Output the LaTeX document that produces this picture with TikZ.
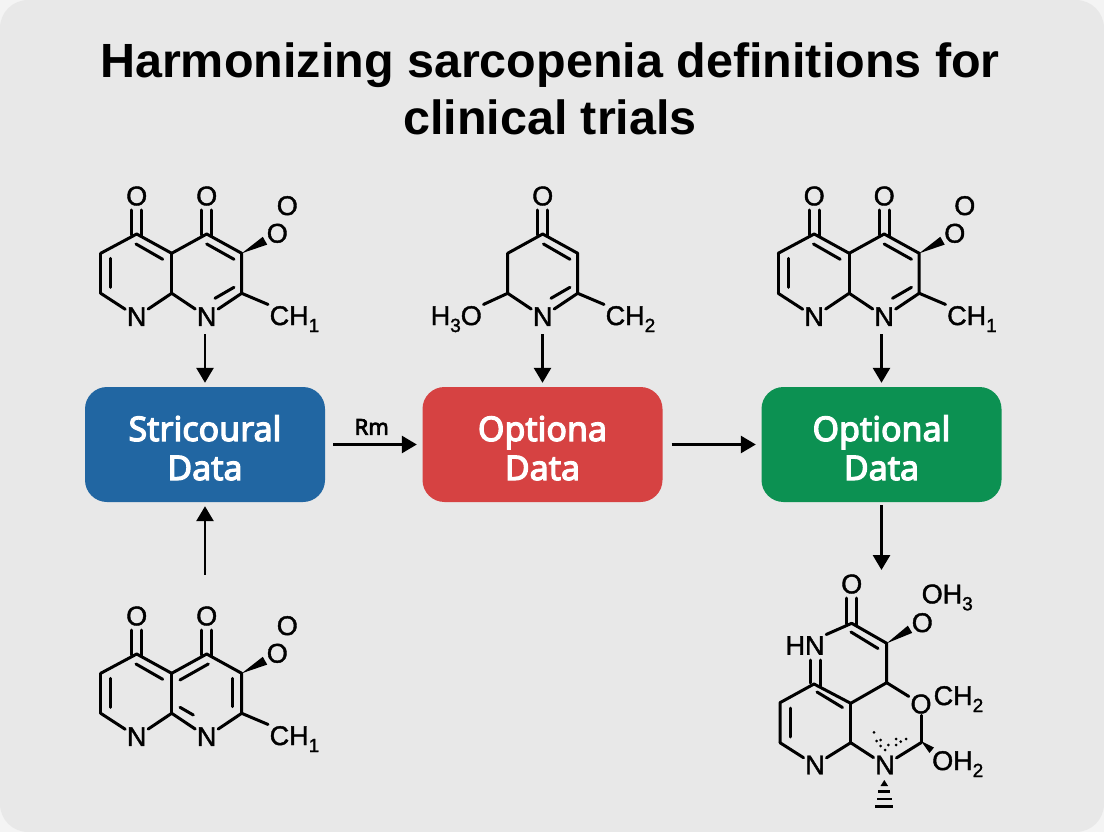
\documentclass[tikz,border=0pt]{standalone}
\usepackage{fontspec}
\setmainfont{Liberation Sans}
\newfontfamily\atomfont[FakeBold=1.5]{Liberation Sans}
\newfontfamily\boxfont[FakeBold=3.5]{Noto Sans}
\usepackage{xcolor}
\usetikzlibrary{arrows.meta, positioning, calc}
\definecolor{panelcolor}{HTML}{E8E8E8}
\definecolor{cornercolor}{HTML}{F4F4F4}
\definecolor{bluecolor}{HTML}{2166A2}
\definecolor{redcolor}{HTML}{D64242}
\definecolor{greencolor}{HTML}{0C9152}
\newcommand{\subidx}[1]{\raisebox{-7pt}{\fontsize{19}{19}\selectfont #1}}
% atoms and bonds shared by the two ketone rings
\newcommand{\ringbase}{
    \coordinate (-a) at (136.7,234);
    \coordinate (-b) at (171.7,253.3);
    \coordinate (-c) at (206.7,234);
    \coordinate (-d) at (241.7,253.3);
    \coordinate (-e) at (241.7,293.3);
    \coordinate (-f) at (171.7,293.3);
    \coordinate (-g) at (100.7,253.3);
    \coordinate (-h) at (100.7,293.3);
    \node[atom] (-o1) at (136.7,196) {O};
    \node[atom] (-o2) at (206.7,196) {O};
    \node[atom] (-o3) at (287.3,205.7) {O};
    \node[atom] (-o4) at (277.3,233.3) {O};
    \node[atom] (-n1) at (136.7,316.7) {N};
    \node[atom] (-n2) at (206.7,316.7) {N};
    \node[atom, anchor=base west] (-ch) at (268,325) {CH\subidx{1}};
    \draw[bond] (131.7,235) -- (131.7,210);
    \draw[bond] (141.7,236) -- (141.7,210);
    \draw[bond] (201.7,235) -- (201.7,210);
    \draw[bond] (211.7,236) -- (211.7,210);
    \draw[bond] (-g) -- (-a) -- (-b) -- (-c) -- (-d) -- (-e);
    \draw[bond] (-g) -- (-h);
    \draw[bond] (-h) -- (-n1);
    \draw[bond] (-n1) -- (-f);
    \draw[bond] (-f) -- (-b);
    \draw[bond] (-f) -- (-n2);
    \draw[bond] (-e) -- (-n2);
    \draw[bond] (-e) -- (-ch.north west);
    \draw[bond] (136,244) -- (162.7,259.3);
    \draw[bond] (110.7,258.3) -- (110.7,287.3);
    \fill (-d) -- (267.2,244.6) -- (262.8,236.8) -- cycle;
}
\tikzset{
    ringtop/.pic={
        \ringbase
        \draw[bond] (206.7,244) -- (234,259.3);
        \draw[bond] (215,298.3) -- (234,287.3);
    },
    ringlow/.pic={
        \ringbase
        \draw[bond] (180,260) -- (208.3,244);
        \draw[bond] (180,287.3) -- (193.3,295);
        \draw[bond] (232.7,258.3) -- (232.7,286.7);
    }
}

\begin{document}
\begin{tikzpicture}[x=1pt, y=-1pt,
    databox/.style={rectangle, rounded corners=22pt, fill=#1, text=white, minimum width=240pt, minimum height=115pt, align=center, text height=71pt, text depth=0pt, font=\boxfont\fontsize{34}{39}\selectfont},
    atom/.style={inner sep=1.5pt, font=\atomfont\fontsize{27}{27}\selectfont},
    bond/.style={line width=3pt, line cap=round, line join=round},
    arrow/.style={-{Triangle[length=15pt,width=17pt]}, line width=2.8pt, shorten >=4pt}
]
\useasboundingbox (0,0) rectangle (1104,832);
\fill[cornercolor] (0,0) rectangle (1104,832);
\fill[panelcolor, rounded corners=28pt] (0,0) rectangle (1104,832);

% Title
\node[align=center, xscale=1.01, font=\bfseries\fontsize{48}{57}\selectfont] (title) at (550,89) {Harmonizing sarcopenia definitions for\\clinical trials};

% Three data boxes
\node[databox=bluecolor] (blue) at (205,444.5) {Stricoural\\Data};
\node[databox=redcolor] (red) at (542.5,444.5) {Optiona\\Data};
\node[databox=greencolor] (green) at (881.5,444.5) {Optional\\Data};

% Ring molecules
\pic (mola) at (0,0) {ringtop};
\pic (molc) at (677.5,0) {ringtop};
\pic (molb) at (0,420) {ringlow};

% Middle molecule
\coordinate (ma) at (542.7,234);
\coordinate (mr) at (577.7,253.3);
\coordinate (ms) at (577.7,293.3);
\coordinate (mt) at (507.7,293.3);
\coordinate (mu) at (507.7,253.3);
\node[atom] (mo) at (542.7,196) {O};
\node[atom] (mn) at (542.7,316.7) {N};
\node[atom, anchor=base east] (mho) at (483.5,325) {H\subidx{3}O};
\node[atom, anchor=base west] (mch) at (604,325) {CH\subidx{2}};
\draw[bond] (537.7,235) -- (537.7,210);
\draw[bond] (547.7,236) -- (547.7,210);
\draw[bond] (mt) -- (mu) -- (ma) -- (mr) -- (ms);
\draw[bond] (mt) -- (mn);
\draw[bond] (ms) -- (mn);
\draw[bond] (mt) -- (mho.north east);
\draw[bond] (ms) -- (mch.north west);
\draw[bond] (543.5,244) -- (570,259.3);
\draw[bond] (551,298.3) -- (570,287.3);

% Lower right molecule
\coordinate (ra) at (851.7,623.3);
\coordinate (rb) at (886.7,643.3);
\coordinate (rc) at (886.7,682.7);
\coordinate (rd) at (850.7,703.3);
\coordinate (re) at (814,684);
\coordinate (rf) at (780,702.7);
\coordinate (rg) at (780,742.7);
\coordinate (rh) at (850.7,742.7);
\coordinate (ri) at (921,742.7);
\node[atom] (ro1) at (851.7,584) {O};
\node[atom] (ro2) at (922.3,622.7) {O};
\node[atom] (ro3) at (921,704) {O};
\node[atom] (rn1) at (815,765) {N};
\node[atom] (rn2) at (885,765) {N};
\node[atom] (rhn) at (805,645.5) {HN};
\node[atom, anchor=base west] (roh3) at (920,603.3) {OH\subidx{3}};
\node[atom, anchor=base west] (rch) at (932,705) {CH\subidx{2}};
\node[atom, anchor=base west] (roh2) at (930.5,770) {OH\subidx{2}};
\draw[bond] (846.7,624) -- (846.7,598);
\draw[bond] (856.7,625) -- (856.7,598);
\draw[bond] (ra) -- (rhn.north east);
\draw[bond] (ra) -- (rb) -- (rc) -- (rd) -- (re) -- (rf) -- (rg);
\draw[bond] (rc) -- (ro3);
\draw[bond] (ro3) -- (ri);
\draw[bond] (rd) -- (rh);
\draw[bond] (rg) -- (rn1);
\draw[bond] (rn1) -- (rh);
\draw[bond] (rh) -- (rn2);
\draw[bond] (rn2) -- (ri);
\draw[bond] (810,660) -- (810,683);
\draw[bond] (820,660) -- (820,687);
\draw[bond] (851,632) -- (878,648.5);
\draw[bond] (817,692) -- (842.5,707.5);
\draw[bond] (790,708) -- (790,737);
\fill (rb) -- (912.2,632.9) -- (907.8,625.7) -- cycle;
\fill (921,741) -- (934,747.5) -- (929.5,753) -- cycle;
% Hashed bond and dots around the lower N
\fill (884.3,780) -- (880.5,786) -- (888.1,786) -- cycle;
\foreach \y/\w in {791.5/6, 799/7.5, 806.7/9}
    \fill (884.3-\w,\y-1.3) rectangle (884.3+\w,\y+1.3);
\foreach \x/\y in {874/732.3, 876.7/741, 880.7/740, 880.7/746, 885/750, 888.3/745, 896/739, 900.7/741.7, 896/745, 906/739}
    \fill (\x,\y) circle (1.5pt);

% Connections
\coordinate (molin) at (881.5,574);
\draw[arrow, shorten <=6.5pt] (blue.north |- mola-n2.south) -- (blue.north);
\draw[arrow, shorten <=6.5pt] (red.north |- mn.south) -- (red.north);
\draw[arrow, shorten <=6.5pt] (green.north |- molc-n2.south) -- (green.north);
\draw[arrow, shorten <=30pt] (blue.south |- molb-o2.north) -- (blue.south);
\draw[arrow, shorten <=8pt, shorten >=5.5pt] (blue) -- node[above=5pt, xshift=-2pt, font=\boxfont\fontsize{22}{22}\selectfont] (rmlabel) {Rm} (red);
\draw[arrow, shorten <=9pt, shorten >=5.5pt] (red) -- (green);
\draw[arrow, shorten <=3pt] (green.south) -- (molin);
\end{tikzpicture}
\end{document}
